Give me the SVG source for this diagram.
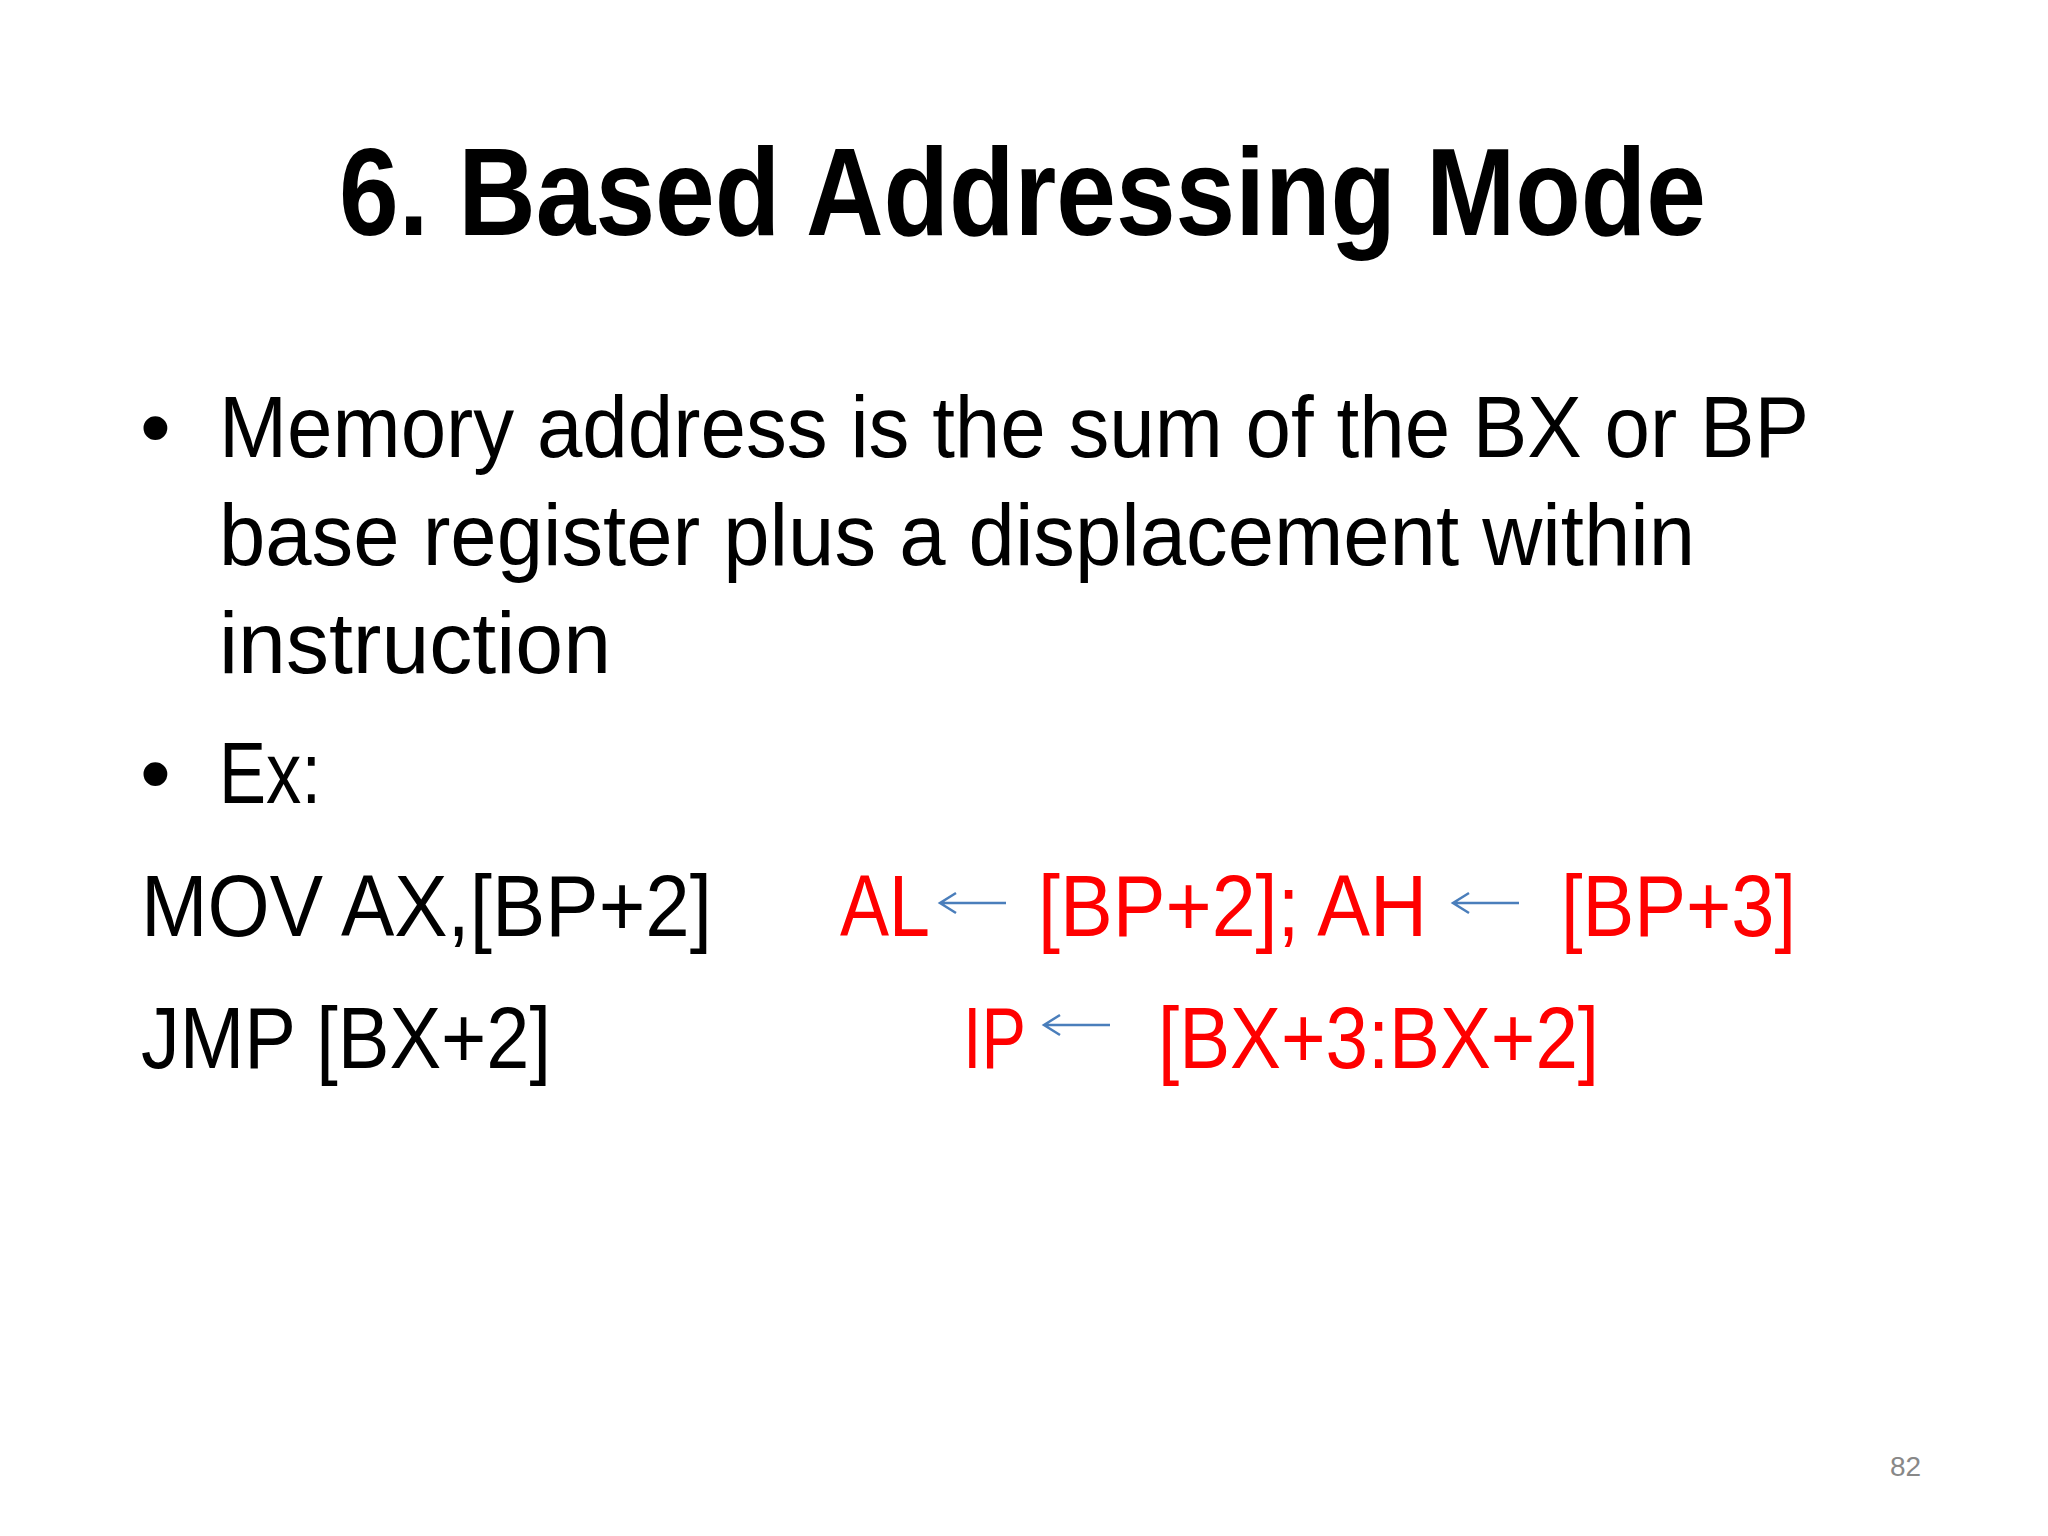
<svg xmlns="http://www.w3.org/2000/svg" width="2048" height="1536" viewBox="0 0 2048 1536">
<style>
text{font-family:"Liberation Sans","Open Sans",sans-serif}
.b{font-size:88px;fill:#000}
.r{font-size:88px;fill:#ff0000}
.ar{stroke:#4a7ebb;stroke-width:2.5;fill:none}
</style>
<rect width="2048" height="1536" fill="#fff"/>
<g id="title"><text x="339" y="235" font-size="124" font-weight="bold" textLength="1367" lengthAdjust="spacingAndGlyphs">6. Based Addressing Mode</text></g>
<g id="body">
<text class="b" x="140" y="457">•</text>
<text class="b" x="219" y="457" textLength="1590" lengthAdjust="spacingAndGlyphs">Memory address is the sum of the BX or BP</text>
<text class="b" x="219" y="565" textLength="1476" lengthAdjust="spacingAndGlyphs">base register plus a displacement within</text>
<text class="b" x="219" y="673" textLength="392" lengthAdjust="spacingAndGlyphs">instruction</text>
<text class="b" x="140" y="803">•</text>
<text class="b" x="219" y="803" textLength="102" lengthAdjust="spacingAndGlyphs">Ex:</text>
<text class="b" x="141" y="936" textLength="571" lengthAdjust="spacingAndGlyphs">MOV AX,[BP+2]</text>
<text class="r" x="840" y="936" textLength="90" lengthAdjust="spacingAndGlyphs">AL</text>
<text class="r" x="1038" y="936" textLength="389" lengthAdjust="spacingAndGlyphs">[BP+2]; AH</text>
<text class="r" x="1561" y="936" textLength="235" lengthAdjust="spacingAndGlyphs">[BP+3]</text>
<text class="b" x="141" y="1068" textLength="410" lengthAdjust="spacingAndGlyphs">JMP [BX+2]</text>
<text class="r" x="963" y="1068" textLength="63" lengthAdjust="spacingAndGlyphs">IP</text>
<text class="r" x="1158" y="1068" textLength="441" lengthAdjust="spacingAndGlyphs">[BX+3:BX+2]</text>
<text x="1890" y="1476" font-size="28" fill="#888">82</text>
</g>
<g id="connectors">
<path class="ar" d="M1006 903H940M956 893L940 903L956 913"/>
<path class="ar" d="M1519 903H1453M1469 893L1453 903L1469 913"/>
<path class="ar" d="M1110 1025H1044M1060 1015L1044 1025L1060 1035"/>
</g>
</svg>
